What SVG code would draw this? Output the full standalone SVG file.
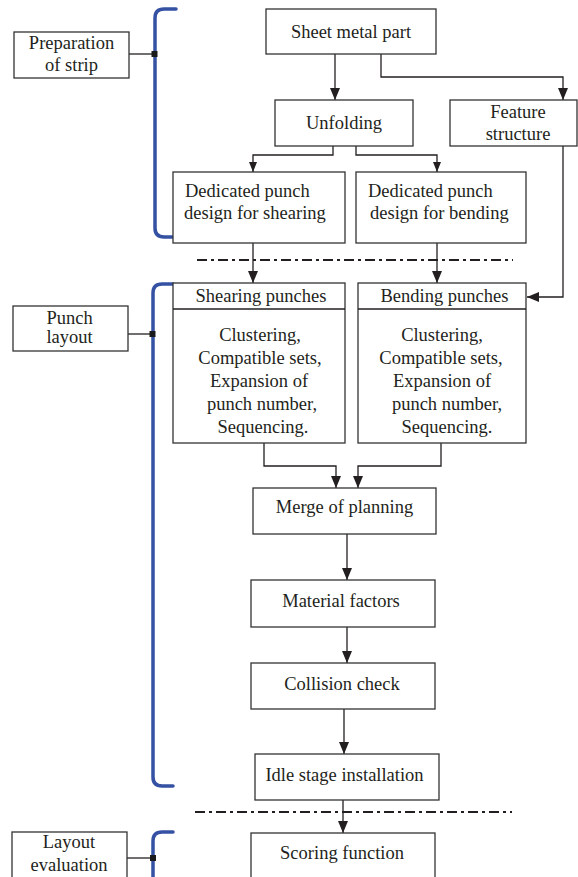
<svg xmlns="http://www.w3.org/2000/svg" width="578" height="877" viewBox="0 0 578 877">
<defs>
<style>
.box{fill:#fff;stroke:#333;stroke-width:1.3}
.t{font-family:"Liberation Serif","Times New Roman",serif;font-size:18.5px;fill:#231f20;text-anchor:middle}
.ts{font-family:"Liberation Serif","Times New Roman",serif;font-size:18.5px;fill:#231f20}
.e{fill:none;stroke:#231f20;stroke-width:1.3}
.br{fill:none;stroke:#3551a3;stroke-width:3.5;stroke-linecap:round}
.dash{fill:none;stroke:#231f20;stroke-width:2;stroke-dasharray:10 4 3 4}
.sq{fill:#1a1a1a}
</style>
<marker id="ah" viewBox="0 0 12 10" refX="12" refY="5" markerWidth="12" markerHeight="10" markerUnits="userSpaceOnUse" orient="auto">
<path d="M0,0 L12,5 L0,10 Z" fill="#231f20"/>
</marker>
<marker id="ahs" viewBox="0 0 10 8" refX="10" refY="4" markerWidth="10" markerHeight="8" markerUnits="userSpaceOnUse" orient="auto">
<path d="M0,0 L10,4 L0,8 Z" fill="#231f20"/>
</marker>
</defs>
<rect width="578" height="877" fill="#fff"/>

<g id="brackets">
<path class="br" d="M176,9 H164 Q155,9 155,18 V228 Q155,237 164,237 H176"/>
<path class="br" d="M173,284 H162 Q153,284 153,293 V777 Q153,786 162,786 H173"/>
<path class="br" d="M173,832 H162 Q153,832 153,841 V890"/>
</g>

<g id="connectors">
<path class="e" d="M335,54 V100" marker-end="url(#ah)"/>
<path class="e" d="M381,54 V77 H563 V100" marker-end="url(#ah)"/>
<path class="e" d="M333,146 V155 H253 V172" marker-end="url(#ahs)"/>
<path class="e" d="M356,146 V155 H437 V172" marker-end="url(#ahs)"/>
<path class="e" d="M253,243 V283" marker-end="url(#ah)"/>
<path class="e" d="M437,243 V283" marker-end="url(#ah)"/>
<path class="e" d="M563,146 V297 H527" marker-end="url(#ah)"/>
<path class="e" d="M264,443 V466 H336 V488" marker-end="url(#ah)"/>
<path class="e" d="M441,443 V466 H358 V488" marker-end="url(#ah)"/>
<path class="e" d="M347,534 V580" marker-end="url(#ah)"/>
<path class="e" d="M347,627 V663" marker-end="url(#ah)"/>
<path class="e" d="M344,709 V754" marker-end="url(#ah)"/>
<path class="e" d="M343,800 V833" marker-end="url(#ah)"/>
<path class="e" d="M129,54 H155"/>
<path class="e" d="M128,334 H153"/>
<path class="e" d="M127,858 H153"/>
<rect class="sq" x="151.5" y="51" width="6" height="6"/>
<rect class="sq" x="149.5" y="331" width="6" height="6"/>
<rect class="sq" x="150" y="855" width="6" height="6"/>
<path class="dash" d="M197,260 H513"/>
<path class="dash" d="M195,812 H512"/>
</g>

<g id="prep">
<rect class="box" x="14" y="32" width="115" height="46"/>
<text class="t" x="71.5" y="49">Preparation</text>
<text class="t" x="71.5" y="71">of strip</text>
</g>
<g id="punchlayout">
<rect class="box" x="13" y="306" width="115" height="45"/>
<text class="t" x="69.5" y="324">Punch</text>
<text class="t" x="69.5" y="343">layout</text>
</g>
<g id="layouteval">
<rect class="box" x="12" y="832" width="115" height="50"/>
<text class="t" x="69" y="848">Layout</text>
<text class="t" x="69" y="871">evaluation</text>
</g>

<g id="sheet">
<rect class="box" x="266" y="9" width="170" height="45"/>
<text class="t" x="351" y="38">Sheet metal part</text>
</g>
<g id="unfolding">
<rect class="box" x="275" y="100" width="138" height="46"/>
<text class="t" x="344" y="129">Unfolding</text>
</g>
<g id="feature">
<rect class="box" x="450" y="100" width="127" height="46"/>
<text class="t" x="518" y="118">Feature</text>
<text class="t" x="518" y="140">structure</text>
</g>
<g id="dedshear">
<rect class="box" x="173" y="172" width="172" height="71"/>
<text class="ts" x="185" y="196.5">Dedicated punch</text>
<text class="ts" x="184" y="219">design for shearing</text>
</g>
<g id="dedbend">
<rect class="box" x="356" y="172" width="170" height="71"/>
<text class="ts" x="368" y="196.5">Dedicated punch</text>
<text class="ts" x="370" y="219">design for bending</text>
</g>
<g id="shearpunch">
<rect class="box" x="173" y="283" width="172" height="160"/>
<path class="e" d="M173,309 H345"/>
<text class="t" x="261" y="302">Shearing punches</text>
<text class="t" x="260" y="341">Clustering,</text>
<text class="t" x="260" y="364">Compatible sets,</text>
<text class="t" x="259" y="387">Expansion of</text>
<text class="t" x="262" y="410">punch number,</text>
<text class="t" x="263" y="433">Sequencing.</text>
</g>
<g id="bendpunch">
<rect class="box" x="358" y="283" width="168" height="160"/>
<path class="e" d="M358,309 H526"/>
<text class="t" x="444.5" y="302">Bending punches</text>
<text class="t" x="442" y="341">Clustering,</text>
<text class="t" x="441" y="364">Compatible sets,</text>
<text class="t" x="442" y="387">Expansion of</text>
<text class="t" x="447" y="410">punch number,</text>
<text class="t" x="447" y="433">Sequencing.</text>
</g>
<g id="merge">
<rect class="box" x="253" y="488" width="183" height="46"/>
<text class="t" x="344.5" y="513">Merge of planning</text>
</g>
<g id="material">
<rect class="box" x="251" y="580" width="184" height="47"/>
<text class="t" x="341" y="607">Material factors</text>
</g>
<g id="collision">
<rect class="box" x="251" y="663" width="184" height="46"/>
<text class="t" x="342" y="690">Collision check</text>
</g>
<g id="idle">
<rect class="box" x="255" y="754" width="184" height="46"/>
<text class="t" x="344.5" y="781">Idle stage installation</text>
</g>
<g id="scoring">
<rect class="box" x="251" y="833" width="184" height="50"/>
<text class="t" x="342" y="859">Scoring function</text>
</g>
</svg>
